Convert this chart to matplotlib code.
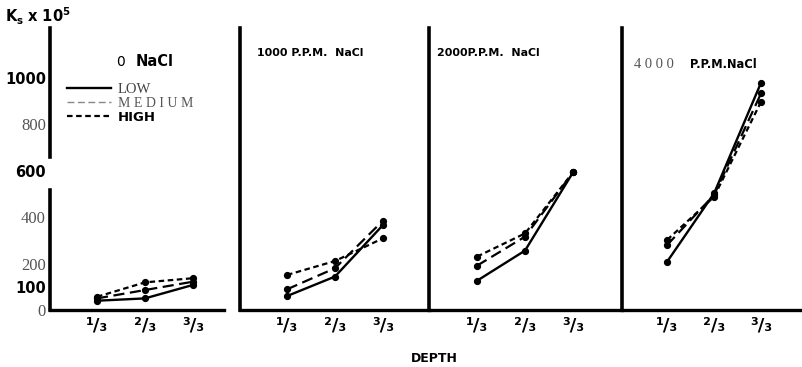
import matplotlib
matplotlib.use("Agg")
import matplotlib.pyplot as plt
from matplotlib.lines import Line2D

# ---- data ----
depth_labels = ["\u00b9/\u2083", "\u00b2/\u2083", "\u00b3/\u2083"]
depth_pos = [1, 2, 3]
panel_titles = ["0 NaCl", "1000 P.P.M.  NaCl", "2000P.P.M.  NaCl", "4000 P.P.M.NaCl"]
series_names = ["LOW", "MEDIUM", "HIGH"]
legend_labels = ["LOW", "M E D I U M", "HIGH"]
low = [[40, 50, 108], [60, 144, 366], [126, 256, 593], [208, 503, 980]]
medium = [[50, 86, 122], [89, 180, 385], [191, 316, 593], [280, 496, 934]]
high = [[57, 119, 137], [151, 211, 309], [230, 330, 593], [302, 488, 898]]
y_ticks = [0, 100, 200, 400, 600, 800, 1000]
y_tick_labels = ["0", "100", "200", "400", "600", "800", "1000"]
y_label = r"$\mathbf{K_s}$ $\mathbf{x\ 10^{5}}$"
x_label = "DEPTH"

# ---- layout (pixels) ----
W, H = 802, 367
YMAX = 1215
AXIS_BREAK = (517, 660)
panels_px = [(50, 228), (240, 429), (429, 622), (622, 802)]
xlims = [(0.02, 3.73), (0.02, 3.96), (0.0, 4.02), (0.04, 3.87)]
top_px, bot_px = 28, 310

fig = plt.figure(figsize=(W / 100, H / 100), dpi=100)
fig.patch.set_facecolor("white")

styles = {
    "LOW": dict(linestyle="-", linewidth=1.7),
    "MEDIUM": dict(linestyle=(0, (5, 2.5)), linewidth=1.6),
    "HIGH": dict(linestyle=(0, (2.5, 1.6)), linewidth=1.6),
}

bold = dict(family="DejaVu Sans", weight="bold", color="black")

axes = []
for i, (l, r) in enumerate(panels_px):
    ax = fig.add_axes([l / W, 1 - bot_px / H, (r - l) / W, (bot_px - top_px) / H])
    ax.set_xlim(*xlims[i])
    ax.set_ylim(0, YMAX)
    for sp in ["top", "right"]:
        ax.spines[sp].set_visible(False)
    ax.spines["left"].set_linewidth(2.6)
    ax.spines["bottom"].set_linewidth(2.4)
    for name, data in zip(series_names, [low, medium, high]):
        ax.plot(depth_pos, data[i], color="black", marker="o", markersize=4.2,
                **styles[name])
    ax.set_xticks(depth_pos)
    ax.set_xticklabels(depth_labels, fontsize=13, fontweight="bold")
    ax.tick_params(axis="x", length=0, pad=5)
    ax.patch.set_alpha(0)
    if i == 0:
        ax.set_yticks(y_ticks)
        ax.set_yticklabels(y_tick_labels)
        for lab, txt in zip(ax.get_yticklabels(), y_tick_labels):
            if txt in ("100", "600", "1000"):
                lab.set_fontfamily("DejaVu Sans")
                lab.set_fontweight("bold")
                lab.set_fontsize(10.5)
            else:
                lab.set_fontfamily("Liberation Serif")
                lab.set_color("#555555")
                lab.set_fontsize(12)
        ax.tick_params(axis="y", length=0, pad=3)
        ax.spines["left"].set_bounds(0, AXIS_BREAK[0])
        ax.axvline(xlims[0][0], ymin=AXIS_BREAK[1] / YMAX, ymax=1, color="black",
                   linewidth=2.6, clip_on=False)
        ax.spines["bottom"].set_bounds(xlims[0][0], 3.65)
    else:
        ax.set_yticks([])
    axes.append(ax)

# panel titles
fig.text(116 / W, 1 - 62 / H, "0", fontsize=10, ha="left", va="center",
         family="DejaVu Sans", color="black")
fig.text(136 / W, 1 - 62 / H, "NaCl", fontsize=10.5, ha="left", va="center", **bold)
fig.text(257 / W, 1 - 53 / H, panel_titles[1], fontsize=7.9, ha="left", va="center", **bold)
fig.text(437 / W, 1 - 53 / H, panel_titles[2], fontsize=7.9, ha="left", va="center", **bold)
fig.text(634 / W, 1 - 65 / H, "4 0 0 0", fontsize=10.5, ha="left", va="center",
         family="Liberation Serif", color="#555555")
fig.text(690 / W, 1 - 65 / H, "P.P.M.NaCl", fontsize=8.3, ha="left", va="center", **bold)

# legend
handles = [Line2D([], [], color="black", **styles[n]) for n in series_names]
leg = axes[0].legend(handles, legend_labels, loc="upper left",
                     bbox_to_anchor=(67 / W, 1 - 83 / H), bbox_transform=fig.transFigure,
                     frameon=False, borderpad=0, borderaxespad=0, handlelength=3.0,
                     handletextpad=0.5, labelspacing=0.05, fontsize=10.5)
texts = leg.get_texts()
texts[0].set_fontfamily("Liberation Serif"); texts[0].set_color("#444444")
texts[1].set_fontfamily("Liberation Serif"); texts[1].set_color("#555555")
texts[1].set_fontsize(10)
texts[2].set_fontfamily("DejaVu Sans"); texts[2].set_fontweight("bold"); texts[2].set_fontsize(9.5)
leg.legend_handles[1].set_color("#888888")
leg.legend_handles[1].set_linewidth(1.0)

# axis labels
fig.text(5 / W, 1 - 16 / H, y_label, fontsize=10.5, ha="left", va="center")
fig.text(434 / W, 1 - 359 / H, x_label, fontsize=9, ha="center", va="center", **bold)

fig.savefig("out.png", dpi=100, facecolor="white")
